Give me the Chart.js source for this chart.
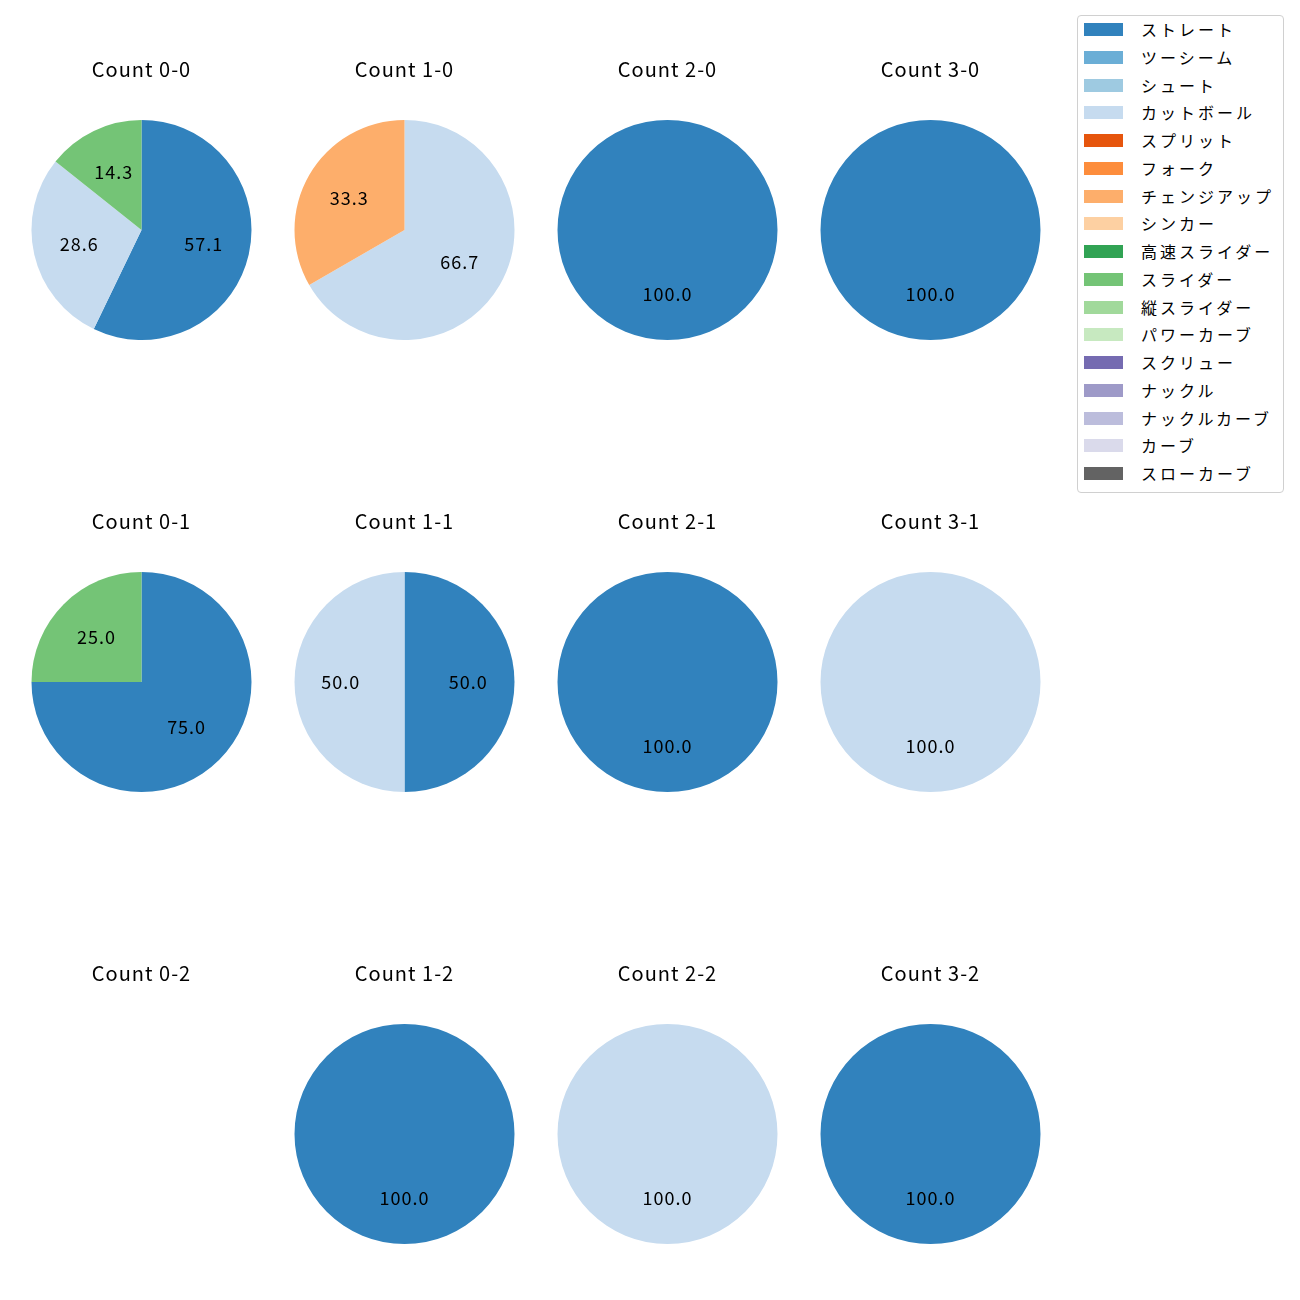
<!DOCTYPE html>
<html>
<head>
<meta charset="utf-8">
<script src="https://cdn.jsdelivr.net/npm/chart.js@4.4.1/dist/chart.umd.min.js"></script>
<style>
  body { margin: 0; background: #fff; font-family: "Noto Sans CJK JP", "Noto Sans", sans-serif; }
  #page { position: relative; width: 1300px; height: 1300px; }
  .cell { position: absolute; width: 263px; height: 283px; }
  #legend { position: absolute; left: 1077px; top: 15px; width: 207px; height: 478px;
            border: 1px solid #d0d0d0; border-radius: 4px; box-sizing: border-box; }
  .item { position: absolute; left: 0; height: 20px; }
  .swatch { position: absolute; left: 6px; top: 3px; width: 39px; height: 13px; }
  .name { position: absolute; left: 63px; top: -1px; font-size: 16px; letter-spacing: 3px;
          white-space: nowrap; color: #000; line-height: 20px; }
</style>
</head>
<body>
<div id="page">
  <div id="legend"></div>
</div>
<script>
// pitch types (legend order) and their colours
let pitchTypes = ['ストレート', 'ツーシーム', 'シュート', 'カットボール', 'スプリット', 'フォーク',
  'チェンジアップ', 'シンカー', '高速スライダー', 'スライダー', '縦スライダー', 'パワーカーブ',
  'スクリュー', 'ナックル', 'ナックルカーブ', 'カーブ', 'スローカーブ'];
let pitchColors = ['#3182bd', '#6baed6', '#9ecae1', '#c6dbef', '#e6550d', '#fd8d3c',
  '#fdae6b', '#fdd0a2', '#31a354', '#74c476', '#a1d99b', '#c7e9c0',
  '#756bb1', '#9e9ac8', '#bcbddc', '#dadaeb', '#636363'];

// pitches thrown per count, same order as pitchTypes
let count00 = [4, 0, 0, 2, 0, 0, 0, 0, 0, 1, 0, 0, 0, 0, 0, 0, 0];
let count10 = [0, 0, 0, 2, 0, 0, 1, 0, 0, 0, 0, 0, 0, 0, 0, 0, 0];
let count20 = [1, 0, 0, 0, 0, 0, 0, 0, 0, 0, 0, 0, 0, 0, 0, 0, 0];
let count30 = [1, 0, 0, 0, 0, 0, 0, 0, 0, 0, 0, 0, 0, 0, 0, 0, 0];
let count01 = [3, 0, 0, 0, 0, 0, 0, 0, 0, 1, 0, 0, 0, 0, 0, 0, 0];
let count11 = [1, 0, 0, 1, 0, 0, 0, 0, 0, 0, 0, 0, 0, 0, 0, 0, 0];
let count21 = [1, 0, 0, 0, 0, 0, 0, 0, 0, 0, 0, 0, 0, 0, 0, 0, 0];
let count31 = [0, 0, 0, 1, 0, 0, 0, 0, 0, 0, 0, 0, 0, 0, 0, 0, 0];
let count02 = [0, 0, 0, 0, 0, 0, 0, 0, 0, 0, 0, 0, 0, 0, 0, 0, 0];
let count12 = [1, 0, 0, 0, 0, 0, 0, 0, 0, 0, 0, 0, 0, 0, 0, 0, 0];
let count22 = [0, 0, 0, 1, 0, 0, 0, 0, 0, 0, 0, 0, 0, 0, 0, 0, 0];
let count32 = [1, 0, 0, 0, 0, 0, 0, 0, 0, 0, 0, 0, 0, 0, 0, 0, 0];

let countTitles = ['Count 0-0', 'Count 1-0', 'Count 2-0', 'Count 3-0',
  'Count 0-1', 'Count 1-1', 'Count 2-1', 'Count 3-1',
  'Count 0-2', 'Count 1-2', 'Count 2-2', 'Count 3-2'];
let countData = [count00, count10, count20, count30,
  count01, count11, count21, count31,
  count02, count12, count22, count32];

let colCenters = [141, 404, 667, 930];
let titleRows = [69, 521, 973];

// percent labels at 0.6 of the radius, like autopct
let pctLabels = {
  id: 'pctLabels',
  afterDatasetsDraw(chart) {
    let ctx = chart.ctx;
    let values = chart.data.datasets[0].data;
    let total = values.reduce((a, b) => a + b, 0);
    if (total === 0) return;
    let meta = chart.getDatasetMeta(0);
    ctx.save();
    ctx.font = '18px "Noto Sans CJK JP", sans-serif';
    ctx.fillStyle = '#000';
    ctx.textAlign = 'center';
    ctx.textBaseline = 'middle';
    meta.data.forEach(function (arc, i) {
      if (values[i] === 0) return;
      let p = arc.getProps(['x', 'y', 'startAngle', 'endAngle', 'outerRadius'], true);
      let mid = (p.startAngle + p.endAngle) / 2;
      let x = p.x + Math.cos(mid) * p.outerRadius * 0.58;
      let y = p.y + Math.sin(mid) * p.outerRadius * 0.58;
      ctx.fillText((values[i] / total * 100).toFixed(1), x, y);
    });
    ctx.restore();
  }
};

let page = document.getElementById('page');

for (let i = 0; i < countData.length; i++) {
  let cell = document.createElement('div');
  cell.className = 'cell';
  cell.style.left = (colCenters[i % 4] - 131.5) + 'px';
  cell.style.top = (titleRows[Math.floor(i / 4)] - 12) + 'px';
  let canvas = document.createElement('canvas');
  canvas.width = 263;
  canvas.height = 283;
  canvas.style.letterSpacing = '1px';
  cell.appendChild(canvas);
  page.appendChild(cell);

  new Chart(canvas, {
    type: 'pie',
    data: {
      labels: pitchTypes,
      datasets: [{
        data: countData[i],
        backgroundColor: pitchColors,
        borderWidth: 0,
        hoverOffset: 0,
        offset: 0
      }]
    },
    options: {
      responsive: false,
      animation: false,
      events: [],
      layout: { padding: 0 },
      plugins: {
        legend: { display: false },
        tooltip: { enabled: false },
        title: {
          display: true,
          text: countTitles[i],
          color: '#000',
          font: { family: '"Noto Sans CJK JP", sans-serif', size: 20, weight: 'normal', lineHeight: 1.02 },
          padding: { top: 2, bottom: 40.6 }
        }
      }
    },
    plugins: [pctLabels]
  });
}

// legend box
let legend = document.getElementById('legend');
for (let i = 0; i < pitchTypes.length; i++) {
  let item = document.createElement('div');
  item.className = 'item';
  item.style.top = (4 + i * 27.75) + 'px';
  let sw = document.createElement('div');
  sw.className = 'swatch';
  sw.style.background = pitchColors[i];
  let name = document.createElement('div');
  name.className = 'name';
  name.textContent = pitchTypes[i];
  item.appendChild(sw);
  item.appendChild(name);
  legend.appendChild(item);
}
</script>
</body>
</html>
